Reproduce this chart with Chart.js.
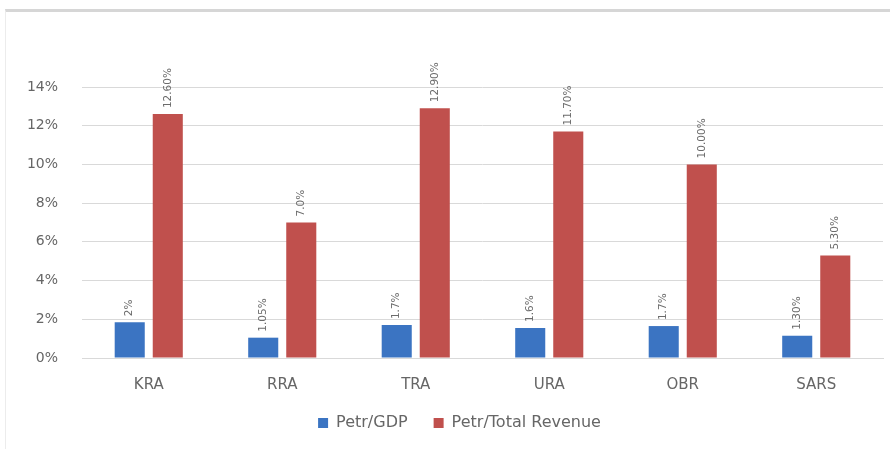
<!DOCTYPE html>
<html>
<head>
<meta charset="utf-8">
<script src="https://cdn.jsdelivr.net/npm/chart.js@4/dist/chart.umd.min.js"></script>
<style>
  html, body { margin: 0; padding: 0; background: #fff; }
  #wrap { position: relative; width: 890px; height: 449px; }
  #frame { position: absolute; left: 5px; top: 9px; right: 0; bottom: 0; border-top: 3px solid #d6d6d6; border-left: 1px solid #ececec; pointer-events: none; }
  canvas { display: block; }
</style>
</head>
<body>
<div id="wrap">
  <canvas id="c" width="890" height="449"></canvas>
  <div id="frame"></div>
</div>
<script>
const categories = ["KRA", "RRA", "TRA", "URA", "OBR", "SARS"];
const gdpValues = [1.85, 1.05, 1.7, 1.55, 1.65, 1.15];
const revenueValues = [12.6, 7.0, 12.9, 11.7, 10.0, 5.3];
const gdpLabels = ["2%", "1.05%", "1.7%", "1.6%", "1.7%", "1.30%"];
const revenueLabels = ["12.60%", "7.0%", "12.90%", "11.70%", "10.00%", "5.30%"];
const yTicks = [0, 2, 4, 6, 8, 10, 12, 14];
const seriesNames = ["Petr/GDP", "Petr/Total Revenue"];

const FONT = "'DejaVu Sans', 'Open Sans', sans-serif";

const labelPlugin = {
  id: 'rotLabels',
  afterLayout(chart) {
    if (chart.legend) { chart.legend.left += 18; chart.legend.right += 18; }
  },
  afterDatasetsDraw(chart) {
    const ctx = chart.ctx;
    const texts = [gdpLabels, revenueLabels];
    chart.data.datasets.forEach((ds, i) => {
      const meta = chart.getDatasetMeta(i);
      meta.data.forEach((bar, j) => {
        ctx.save();
        ctx.translate(bar.x, bar.y - 6);
        ctx.rotate(-Math.PI / 2);
        ctx.font = "10.5px " + FONT;
        ctx.fillStyle = "#6b6b6b";
        ctx.textAlign = "left";
        ctx.textBaseline = "middle";
        ctx.fillText(texts[i][j], 0, 0);
        ctx.restore();
      });
    });
  }
};

new Chart(document.getElementById('c'), {
  type: 'bar',
  data: {
    labels: categories,
    datasets: [
      { label: seriesNames[0], data: gdpValues, backgroundColor: '#3b74c2', barPercentage: 0.79, categoryPercentage: 0.57 },
      { label: seriesNames[1], data: revenueValues, backgroundColor: '#c0504d', barPercentage: 0.79, categoryPercentage: 0.57 }
    ]
  },
  options: {
    responsive: false,
    animation: false,
    layout: { padding: { top: 87, right: 7, left: 0, bottom: 8 } },
    plugins: {
      legend: {
        position: 'bottom',
        labels: { boxWidth: 10, boxHeight: 10, color: '#666666', font: { family: FONT, size: 16 }, padding: 26 }
      },
      tooltip: { enabled: false }
    },
    scales: {
      x: {
        grid: { display: false, drawTicks: false },
        border: { color: '#d9d9d9' },
        ticks: { color: '#666666', font: { family: FONT, size: 15 }, padding: 18 },
        afterFit(s) { s.height = 31; }
      },
      y: {
        min: 0, max: 14,
        afterBuildTicks(s) { s.ticks = yTicks.map(v => ({ value: v })); },
        grid: { color: '#d9d9d9', drawTicks: false },
        border: { display: false },
        ticks: { color: '#666666', font: { family: FONT, size: 14 }, padding: 24, callback: v => v + '%' },
        afterFit(s) { s.width = 82; }
      }
    }
  },
  plugins: [labelPlugin]
});
</script>
</body>
</html>
